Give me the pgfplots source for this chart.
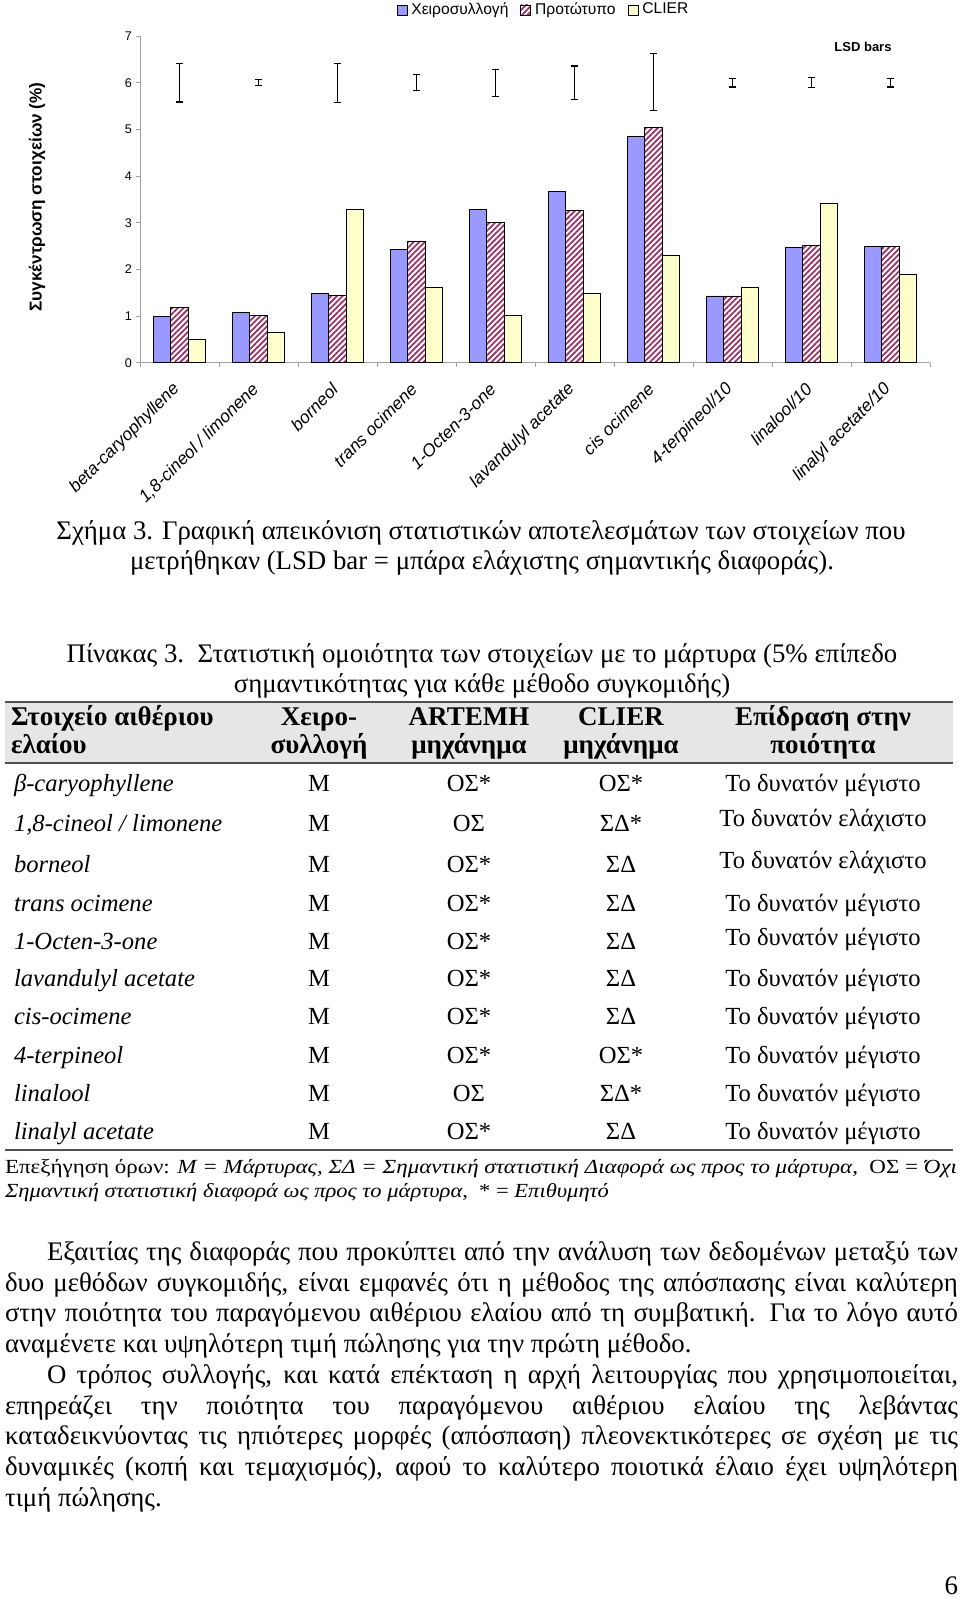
\documentclass[border=0pt]{standalone}
\usepackage{fontspec}
\setmainfont{Liberation Serif}
\newfontfamily\chartfont{Liberation Sans}
\usepackage{graphicx}
\usepackage{pgfplots}
\pgfplotsset{compat=1.18}
\usetikzlibrary{patterns.meta}

\definecolor{barblue}{HTML}{9999FF}
\definecolor{hatch}{HTML}{993366}
\definecolor{barcream}{HTML}{FFFFCC}
\definecolor{axisgray}{HTML}{A0A0A0}
\definecolor{bandgray}{HTML}{E6E6E6}
\definecolor{rulegray}{HTML}{505050}

\pgfplotsset{sqlegend/.style={legend image code/.code={\draw[##1] (0pt,-2.5pt) rectangle (5pt,2.5pt);}}}

\newcommand{\bodysize}{\fontsize{13.4pt}{15.35pt}\selectfont}
\newcommand{\headsize}{\fontsize{13.5pt}{15pt}\selectfont}
\newcommand{\cellsize}{\fontsize{12.3pt}{14pt}\selectfont}
\newcommand{\notesize}{\fontsize{10pt}{12pt}\selectfont}
\newcommand{\jline}[2]{\makebox[#1][s]{#2}}
% y, name, hand, artemh, clier, effect, raise of effect
\newcommand{\trow}[7]{%
  \node[anchor=base west] at (14,#1) {\itshape #2};
  \node[anchor=base] at (319,#1) {#3};
  \node[anchor=base] at (469,#1) {#4};
  \node[anchor=base] at (621,#1) {#5};
  \node[anchor=base] at (823,#1-#7) {#6};
}

\begin{document}
\begin{tikzpicture}
\useasboundingbox (0,0) rectangle (480pt,-803pt);

\begin{axis}[
  at={(70pt,-181.35pt)}, anchor=south west,
  scale only axis, width=395pt, height=163.3pt,
  xmin=-0.5, xmax=9.5, ymin=0, ymax=7,
  clip=false,
  axis x line*=bottom, axis y line*=left,
  axis line style={draw=axisgray, line width=0.5pt, -},
  tick align=outside, major tick length=2pt,
  tick style={draw=axisgray, line width=0.5pt},
  ytick={0,...,7},
  /pgf/number format/assume math mode=true,
  yticklabel style={font=\chartfont\fontsize{6.3pt}{7pt}\selectfont, xshift=1.5pt},
  xtick={-0.5,0.5,...,9.5}, xticklabels={},
  extra x ticks={0,...,9},
  extra x tick labels={beta-caryophyllene,{1,8-cineol / limonene},borneol,trans ocimene,1-Octen-3-one,lavandulyl acetate,cis ocimene,4-terpineol/10,linalool/10,linalyl acetate/10},
  extra x tick style={major tick length=0pt,
    tick label style={rotate=45, anchor=east, xshift=-5.9pt, yshift=-7.5pt,
      font=\chartfont\itshape\fontsize{8.7pt}{10pt}\selectfont}},
  legend style={at={(0.512,1.08)}, anchor=center, draw=none, fill=none,
    font=\chartfont\fontsize{7.8pt}{9pt}\selectfont,
    /tikz/every even column/.append style={column sep=4pt}},
  legend columns=3,
]
\addplot[ybar, bar width=8.75pt, bar shift=-8.75pt, fill=barblue, draw=black, line width=0.4pt, sqlegend]
  coordinates {(0,0.99) (1,1.07) (2,1.48) (3,2.42) (4,3.29) (5,3.67) (6,4.85) (7,1.43) (8,2.48) (9,2.49)};
\addlegendentry{Χειροσυλλογή}
\addplot[ybar, bar width=8.75pt, bar shift=0pt, fill=white, draw=black, line width=0.4pt,
  pattern={Lines[angle=45, distance=2pt, line width=0.9pt]}, pattern color=hatch, sqlegend]
  coordinates {(0,1.18) (1,1.01) (2,1.45) (3,2.61) (4,3.01) (5,3.26) (6,5.04) (7,1.43) (8,2.52) (9,2.49)};
\addlegendentry{Προτώτυπο}
\addplot[ybar, bar width=8.75pt, bar shift=8.75pt, fill=barcream, draw=black, line width=0.4pt, sqlegend]
  coordinates {(0,0.50) (1,0.65) (2,3.29) (3,1.62) (4,1.01) (5,1.48) (6,2.31) (7,1.61) (8,3.42) (9,1.90)};
\addlegendentry{CLIER}
% LSD bars
\addplot[forget plot, draw=none, mark=none,
  error bars/.cd, y dir=both, y explicit,
  error bar style={draw=black, line width=0.6pt},
  error mark options={rotate=90, draw=black, mark size=1.9pt, line width=0.6pt}]
  coordinates {(0,6.0) +- (0,0.41) (1,6.0) +- (0,0.065) (2,6.0) +- (0,0.42) (3,6.0) +- (0,0.17)
    (4,6.0) +- (0,0.29) (5,6.0) +- (0,0.36) (6,6.01) +- (0,0.61) (7,6.0) +- (0,0.09)
    (8,6.0) +- (0,0.105) (9,6.0) +- (0,0.09)};
\end{axis}

\begin{scope}[x=0.5pt, y=-0.5pt, every node/.style={inner sep=0pt, outer sep=0pt}]
% chart texts
\node[rotate=90, font=\chartfont\bfseries\fontsize{8.6pt}{10pt}\selectfont] at (37,197) {Συγκέντρωση στοιχείων (\%)};
\node[font=\chartfont\bfseries\fontsize{6.5pt}{8pt}\selectfont] at (863,47) {LSD bars};

% caption
\node[anchor=base, font=\bodysize] at (481,539) {Σχήμα 3. Γραφική απεικόνιση στατιστικών αποτελεσμάτων των στοιχείων που};
\node[anchor=base, font=\bodysize] at (482,569) {μετρήθηκαν (LSD bar = μπάρα ελάχιστης σημαντικής διαφοράς).};

% table title
\node[anchor=base, font=\bodysize] at (482,662) {Πίνακας 3.\ \ Στατιστική ομοιότητα των στοιχείων με το μάρτυρα (5\% επίπεδο};
\node[anchor=base, font=\bodysize] at (482,692) {σημαντικότητας για κάθε μέθοδο συγκομιδής)};

% header band
\fill[bandgray] (5,702) rectangle (953,763);
\draw[rulegray, line width=1.2pt] (5,702) -- (953,702);
\draw[rulegray, line width=1pt] (5,763) -- (953,763);
\begin{scope}[every node/.append style={font=\headsize\bfseries}]
\node[anchor=base west] at (11,725) {Στοιχείο αιθέριου};
\node[anchor=base west] at (11,753) {ελαίου};
\node[anchor=base] at (319,725) {Χειρο-};
\node[anchor=base] at (319,753) {συλλογή};
\node[anchor=base] at (469,725) {ARTEMH};
\node[anchor=base] at (469,753) {μηχάνημα};
\node[anchor=base] at (621,725) {CLIER};
\node[anchor=base] at (621,753) {μηχάνημα};
\node[anchor=base] at (823,725) {Επίδραση στην};
\node[anchor=base] at (823,753) {ποιότητα};
\end{scope}

% rows
\begin{scope}[every node/.append style={font=\cellsize}]
\trow{791}{β-caryophyllene}{Μ}{ΟΣ*}{ΟΣ*}{Το δυνατόν μέγιστο}{0}
\trow{831}{1,8-cineol / limonene}{Μ}{ΟΣ}{ΣΔ*}{Το δυνατόν ελάχιστο}{5}
\trow{872}{borneol}{Μ}{ΟΣ*}{ΣΔ}{Το δυνατόν ελάχιστο}{4}
\trow{911}{trans ocimene}{Μ}{ΟΣ*}{ΣΔ}{Το δυνατόν μέγιστο}{0}
\trow{949}{1-Octen-3-one}{Μ}{ΟΣ*}{ΣΔ}{Το δυνατόν μέγιστο}{4}
\trow{986}{lavandulyl acetate}{Μ}{ΟΣ*}{ΣΔ}{Το δυνατόν μέγιστο}{0}
\trow{1024}{cis-ocimene}{Μ}{ΟΣ*}{ΣΔ}{Το δυνατόν μέγιστο}{0}
\trow{1063}{4-terpineol}{Μ}{ΟΣ*}{ΟΣ*}{Το δυνατόν μέγιστο}{0}
\trow{1101}{linalool}{Μ}{ΟΣ}{ΣΔ*}{Το δυνατόν μέγιστο}{0}
\trow{1139}{linalyl acetate}{Μ}{ΟΣ*}{ΣΔ}{Το δυνατόν μέγιστο}{0}
\end{scope}
\draw[rulegray, line width=1pt] (5,1150) -- (953,1150);

% note
\node[anchor=base west, font=\notesize] at (5,1173) {\resizebox{476pt}{\height}{Επεξήγηση όρων: \textit{Μ = Μάρτυρας, ΣΔ = Σημαντική στατιστική Διαφορά ως προς το μάρτυρα,}\ \ ΟΣ = \textit{Όχι}}};
\node[anchor=base west, font=\notesize] at (5,1197) {\resizebox{302pt}{\height}{\textit{Σημαντική στατιστική διαφορά ως προς το μάρτυρα,}\ \ * = \textit{Επιθυμητό}}};

% paragraphs
\begin{scope}[every node/.append style={font=\bodysize, anchor=base west}]
\node at (47,1260) {\jline{455.5pt}{Εξαιτίας της διαφοράς που προκύπτει από την ανάλυση των δεδομένων μεταξύ των}};
\node at (5,1291) {\jline{476.5pt}{δυο μεθόδων συγκομιδής, είναι εμφανές ότι η μέθοδος της απόσπασης είναι καλύτερη}};
\node at (5,1321.7) {\jline{476.5pt}{στην ποιότητα του παραγόμενου αιθέριου ελαίου από τη συμβατική. Για το λόγο αυτό}};
\node at (5,1352.4) {αναμένετε και υψηλότερη τιμή πώλησης για την πρώτη μέθοδο.};
\node at (47,1383) {\jline{455.5pt}{Ο τρόπος συλλογής, και κατά επέκταση η αρχή λειτουργίας που χρησιμοποιείται,}};
\node at (5,1414) {\jline{476.5pt}{επηρεάζει την ποιότητα του παραγόμενου αιθέριου ελαίου της λεβάντας}};
\node at (5,1444.6) {\jline{476.5pt}{καταδεικνύοντας τις ηπιότερες μορφές (απόσπαση) πλεονεκτικότερες σε σχέση με τις}};
\node at (5,1475.3) {\jline{476.5pt}{δυναμικές (κοπή και τεμαχισμός), αφού το καλύτερο ποιοτικά έλαιο έχει υψηλότερη}};
\node at (5,1506) {τιμή πώλησης.};
\end{scope}
\node[anchor=base east, font=\bodysize] at (958,1594) {6};
\end{scope}
\end{tikzpicture}
\end{document}
